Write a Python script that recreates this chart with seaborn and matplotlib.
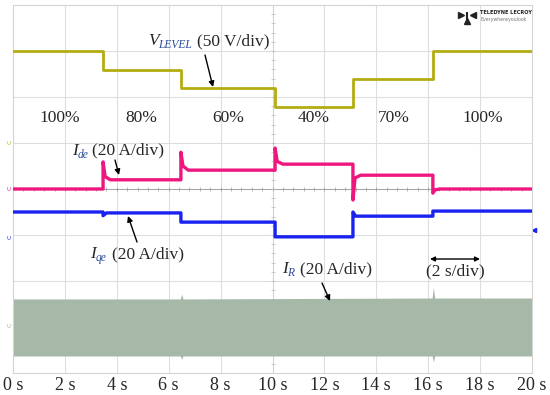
import matplotlib
matplotlib.use("Agg")
import matplotlib.pyplot as plt
import numpy as np
import pandas as pd
import seaborn as sns

# scope traces, y in divisions (centre line = 0), x in seconds
v_t = [0, 3.47, 3.47, 6.47, 6.47, 10.1, 10.1, 13.1, 13.1, 16.18, 16.18, 20]
v_y = [3.0, 3.0, 2.59, 2.59, 2.2, 2.2, 1.78, 1.78, 2.39, 2.39, 3.0, 3.0]

ide_t = [0, 3.47, 3.47, 3.55, 3.75, 6.47, 6.47, 6.55, 6.75, 10.1, 10.1, 10.18, 10.4,
         13.1, 13.1, 13.18, 13.4, 16.18, 16.18, 16.26, 16.45, 20]
ide_y = [0.0, 0.0, 0.59, 0.27, 0.2, 0.2, 0.80, 0.5, 0.41, 0.41, 0.89, 0.6, 0.54,
         0.54, -0.24, 0.24, 0.3, 0.3, -0.09, -0.02, 0.0, 0.0]

iqe_t = [0, 3.47, 3.47, 3.6, 6.47, 6.47, 10.1, 10.1, 13.1, 13.1, 13.2, 16.18, 16.18, 20]
iqe_y = [-0.5, -0.5, -0.58, -0.52, -0.52, -0.72, -0.72, -1.04, -1.04, -0.5, -0.59, -0.59, -0.48, -0.48]

ir_t = [0, 6.45, 6.5, 6.55, 16.15, 16.2, 16.25, 20]
ir_top = [-2.39, -2.39, -2.28, -2.39, -2.37, -2.13, -2.37, -2.37]
ir_bot = [-3.63, -3.63, -3.7, -3.63, -3.63, -3.76, -3.63, -3.63]

x_ticks = [0, 2, 4, 6, 8, 10, 12, 14, 16, 18, 20]
x_labels = [f"{t} s" for t in x_ticks]
pct_x = [1.8, 4.95, 8.28, 11.6, 14.68, 18.1]
pct_labels = ["100%", "80%", "60%", "40%", "70%", "100%"]

sns.set_theme(style="white")
serif = "Liberation Serif"
sub_c = "#2b4a9a"

fig = plt.figure(figsize=(5.5, 3.95), dpi=100)
ax = fig.add_axes([13 / 550, 22 / 395, 519 / 550, 368 / 395])

# grid
for x in x_ticks[1:-1]:
    ax.axvline(x, color="#dedede", lw=0.8, zorder=0)
for y in range(-3, 4):
    ax.axhline(y, color="#dedede", lw=0.8, zorder=0)
ax.axhline(0, color="#9a9a9a", lw=0.6, zorder=0)
ax.axvline(10, color="#cfcfcf", lw=0.6, zorder=0)
mx = np.arange(0, 20.01, 0.4)
ax.plot(mx, np.zeros_like(mx), ls="none", marker="|", ms=3, mew=0.5, color="#9a9a9a", zorder=0)
my = np.arange(-4, 4.01, 0.2)
ax.plot(np.full_like(my, 10), my, ls="none", marker="_", ms=3, mew=0.5, color="#bbbbbb", zorder=0)

# IR band
ax.fill_between(ir_t, ir_bot, ir_top, color="#a6b8a8", lw=0, zorder=1)

df_v = pd.DataFrame({"t": v_t, "y": v_y})
df_d = pd.DataFrame({"t": ide_t, "y": ide_y})
df_q = pd.DataFrame({"t": iqe_t, "y": iqe_y})
sns.lineplot(data=df_v, x="t", y="y", estimator=None, sort=False, color="#b3ad12", lw=2.0, ax=ax, zorder=3)
sns.lineplot(data=df_d, x="t", y="y", estimator=None, sort=False, color="#f0167f", lw=2.4, ax=ax, zorder=3)
sns.lineplot(data=df_q, x="t", y="y", estimator=None, sort=False, color="#1a22f0", lw=2.4, ax=ax, zorder=3)

ax.set_xlim(0, 20)
ax.set_ylim(-4, 4)
ax.set_xticks(x_ticks)
ax.set_xticklabels(x_labels, fontsize=13, family=serif)
ax.set_yticks([])
ax.set_xlabel("")
ax.set_ylabel("")
ax.tick_params(axis="x", length=0, pad=3)
for s in ax.spines.values():
    s.set_color("#d4d4d4")
    s.set_linewidth(0.8)

# percentage labels
for x, lab in zip(pct_x, pct_labels):
    ax.text(x, 1.54, lab, ha="center", va="center", fontsize=12.5, family=serif)


def px(xp, yp):
    return ((xp - 13) / 25.95, (189 - yp) / 46)


# trace labels: italic symbol + blue italic subscript + unit text
def label(x, y, main, sub):
    t1 = ax.text(x, y, main, ha="left", va="center", fontsize=12.5, family=serif, style="italic")
    ax.annotate(sub, xy=(1, 0), xycoords=t1, xytext=(-0.3, -1.8), textcoords="offset points",
                ha="left", va="bottom", fontsize=8.3, family=serif, style="italic", color=sub_c)


label(*px(148, 41), "V", "LEVEL")
ax.text(*px(197, 41), "(50 V/div)", ha="left", va="center", fontsize=12.5, family=serif)
label(*px(72, 151), "I", "de")
ax.text(*px(92, 150), "(20 A/div)", ha="left", va="center", fontsize=12.5, family=serif)
label(*px(90, 254), "I", "qe")
ax.text(*px(112, 254), "(20 A/div)", ha="left", va="center", fontsize=12.5, family=serif)
label(*px(282, 269), "I", "R")
ax.text(*px(300, 269), "(20 A/div)", ha="left", va="center", fontsize=12.5, family=serif)
ax.text(*px(455, 271), "(2 s/div)", ha="center", va="center", fontsize=12.5, family=serif)

arrow = dict(arrowstyle="-|>", color="black", lw=1.0, mutation_scale=8, shrinkA=0, shrinkB=0)
ax.annotate("", xy=px(213, 87), xytext=px(205, 55), arrowprops=arrow)
ax.annotate("", xy=px(119, 175), xytext=px(115, 160), arrowprops=arrow)
ax.annotate("", xy=px(128, 216), xytext=px(137, 242), arrowprops=arrow)
ax.annotate("", xy=px(330, 301), xytext=px(322, 283), arrowprops=arrow)
ax.annotate("", xy=px(480, 259), xytext=px(430, 259),
            arrowprops=dict(arrowstyle="<|-|>", color="black", lw=1.0, mutation_scale=7, shrinkA=0, shrinkB=0))

# channel markers
for (yp, c) in [(142, "#b3ad12"), (188, "#f0167f"), (237, "#1a22f0"), (325, "#a0a8a0")]:
    ax.text(-0.12, (189 - yp) / 46, "C", rotation=90, fontsize=4.5, color=c, ha="center", va="center", clip_on=False)
ax.plot([20.08], [-0.89], marker="<", ms=3, color="#1a22f0", clip_on=False)

# logo
ax.text(*px(480, 13), "TELEDYNE LECROY", fontsize=3.6, weight="bold", family="DejaVu Sans Condensed",
        ha="left", va="center", color="#222222")
ax.text(*px(480, 20), "Everywhereyoulook", fontsize=3.4, family="DejaVu Sans Condensed",
        ha="left", va="center", color="#777777")
ax.plot(*px(467, 21), marker="^", ms=4.5, color="#222222")
ax.plot(*px(461, 15), marker=">", ms=4, color="#222222")
ax.plot(*px(473, 15), marker="<", ms=4, color="#222222")
ax.plot(*px(467, 18), marker="|", ms=8, mew=1.5, color="#222222")

fig.savefig("out.png", dpi=100)
